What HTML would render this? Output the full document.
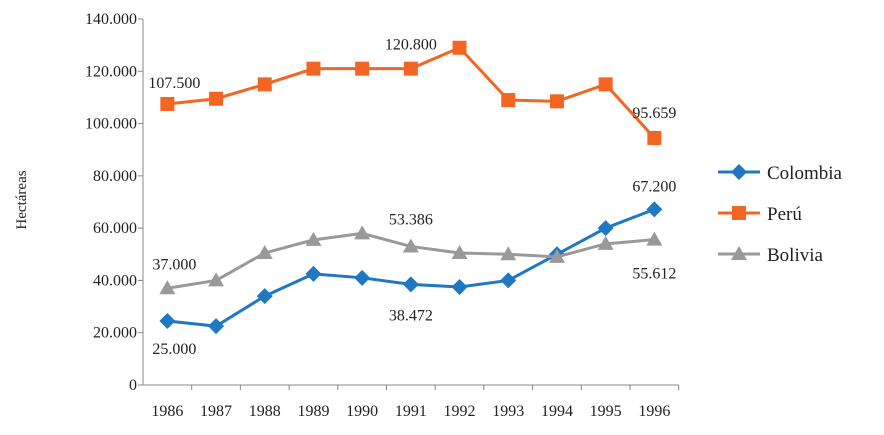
<!DOCTYPE html>
<html><head><meta charset="utf-8"><style>
body{margin:0;background:#fff;}
svg text{font-family:"Liberation Serif",serif;fill:#222;}
</style></head><body>
<svg id="chart" width="884" height="430">
<g id="axes"></g><g id="series"></g><g id="labels"></g><g id="legend"></g>
<text transform="translate(26,200) rotate(-90)" text-anchor="middle" font-size="15">Hectáreas</text>
</svg>
<script>
const years=["1986","1987","1988","1989","1990","1991","1992","1993","1994","1995","1996"];
const colombia=[24500,22500,34000,42500,41000,38500,37500,40000,50000,60000,67200];
const peru=[107500,109500,115000,121000,121000,121000,129000,109000,108500,115000,94500];
const bolivia=[37000,40000,50500,55500,58000,53000,50500,50000,49000,54000,55612];
const yTicks=[0,20000,40000,60000,80000,100000,120000,140000];
const tickLabels=["0","20.000","40.000","60.000","80.000","100.000","120.000","140.000"];
const NS="http://www.w3.org/2000/svg";
const x0=143,band=48.7,yBase=385,yTop=19,yMax=140000;
const X=i=>x0+band*(i+0.5);
const Y=v=>yBase-(v/yMax)*(yBase-yTop);
function mk(t,a,p){const e=document.createElementNS(NS,t);for(const k in a)e.setAttribute(k,a[k]);p.appendChild(e);return e;}
const axes=document.getElementById('axes');
let l=mk('line',{x1:x0,y1:yTop,x2:x0,y2:yBase,stroke:'#888','stroke-width':1},axes);


l=mk('line',{x1:x0,y1:yBase,x2:x0+band*years.length,y2:yBase,stroke:'#888','stroke-width':1},axes);


yTicks.forEach((v,i)=>{
 mk('line',{x1:x0-5,y1:Y(v),x2:x0,y2:Y(v),stroke:'#888'},axes);
 const t=mk('text',{x:x0-6,y:Y(v)+5,'text-anchor':'end','font-size':16},axes);t.textContent=tickLabels[i];
 
 
});
years.forEach((y,i)=>{
 mk('line',{x1:x0+band*(i+1),y1:yBase,x2:x0+band*(i+1),y2:yBase+5,stroke:'#888'},axes);
 const t=mk('text',{x:X(i),y:yBase+31,'text-anchor':'middle','font-size':16},axes);t.textContent=y;
 
 
});
const sg=document.getElementById('series');
function marker(shape,cx,cy,c,p){
 if(shape==='diamond')return mk('polygon',{points:`${cx},${cy-8} ${cx+8},${cy} ${cx},${cy+8} ${cx-8},${cy}`,fill:c},p);
 if(shape==='square')return mk('rect',{x:cx-7,y:cy-7,width:14,height:14,fill:c},p);
 return mk('polygon',{points:`${cx},${cy-8} ${cx+8},${cy+6} ${cx-8},${cy+6}`,fill:c},p);
}
const defs=[["colombia",colombia,"#1f78c1","diamond"],["peru",peru,"#f26522","square"],["bolivia",bolivia,"#999999","triangle"]];
defs.forEach(([n,d,c,s])=>{
 const pl=mk('polyline',{points:d.map((v,i)=>X(i)+','+Y(v)).join(' '),fill:'none',stroke:c,'stroke-width':3},sg);
 
 
 d.forEach((v,i)=>{const m=marker(s,X(i),Y(v),c,sg);
  
  });
});
const lg=document.getElementById('labels');
const ann=[["107.500",0,peru[0],7,-21],["120.800",5,peru[5],0,-24],["95.659",10,peru[10],0,-25],
["37.000",0,bolivia[0],7,-24],["53.386",5,bolivia[5],0,-27],["55.612",10,bolivia[10],0,34],
["25.000",0,colombia[0],7,28],["38.472",5,colombia[5],0,31],["67.200",10,colombia[10],0,-23]];
ann.forEach(([txt,i,v,dx,dy])=>{const t=mk('text',{x:X(i)+dx,y:Y(v)+dy+5,'text-anchor':'middle','font-size':16},lg);t.textContent=txt;
 
 });
const leg=document.getElementById('legend');
const names=["Colombia","Perú","Bolivia"];
defs.forEach(([n,d,c,s],k)=>{const yy=172+k*41;
 const g=mk('g',{},leg);
 
 
 mk('line',{x1:718,y1:yy,x2:760,y2:yy,stroke:c,'stroke-width':3},g);
 marker(s,739,yy,c,g);
 const t=mk('text',{x:767,y:yy+7,'font-size':19},g);t.textContent=names[k];});
</script>
</body></html>
